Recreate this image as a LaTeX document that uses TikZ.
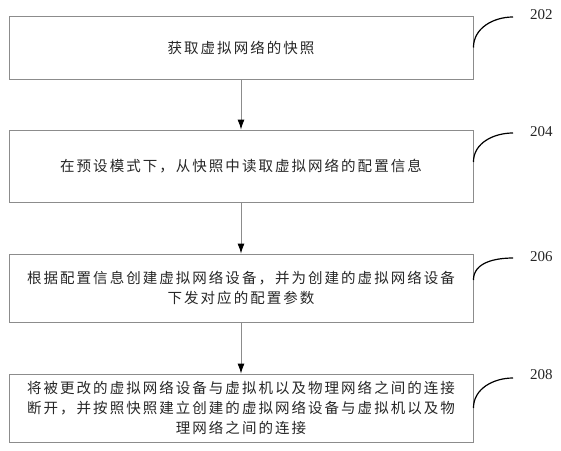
\documentclass[tikz,border=0pt]{standalone}
\usepackage{fontspec}
\setmainfont{Liberation Serif}
\newfontfamily\cjk[LetterSpace=14]{Noto Sans CJK SC}
\usetikzlibrary{arrows.meta,calc}
\tikzset{
  stepbox/.style={draw=black!45, line width=0.9pt, inner sep=0pt, align=center,
    font=\cjk\fontsize{14.5}{20}\selectfont, text=black!85},
  flow/.style={draw=black!45, line width=0.9pt, -{Latex[black,length=10pt,width=7pt]}},
  leader/.style={draw=black, line width=1.2pt},
  refnum/.style={anchor=west, inner sep=0pt, font=\fontsize{15}{15}\selectfont, text=black!85}
}
\begin{document}
\begin{tikzpicture}[x=1pt,y=-1pt]
\useasboundingbox (0,0) rectangle (561,450);
\node[stepbox, minimum width=464pt, minimum height=63pt] (b1) at (241,47.5) {获取虚拟网络的快照};
\node[stepbox, minimum width=464pt, minimum height=72pt] (b2) at (241,166) {在预设模式下，从快照中读取虚拟网络的配置信息};
\node[stepbox, minimum width=464pt, minimum height=68pt] (b3) at (241,288) {根据配置信息创建虚拟网络设备，并为创建的虚拟网络设备\\下发对应的配置参数};
\node[stepbox, minimum width=464pt, minimum height=68pt] (b4) at (241,408) {将被更改的虚拟网络设备与虚拟机以及物理网络之间的连接\\断开，并按照快照建立创建的虚拟网络设备与虚拟机以及物\\理网络之间的连接};
\draw[flow] (b1) -- (b2);
\draw[flow] (b2) -- (b3);
\draw[flow] (b3) -- (b4);
\coordinate (c1) at (513,17);
\coordinate (c2) at (513,133);
\coordinate (c3) at (513,258);
\coordinate (c4) at (513,378);
\draw[leader] (b1.east) to[out=90,in=180] (c1);
\draw[leader] ($(b2.east)+(0,-4)$) to[out=90,in=180] (c2);
\draw[leader] ($(b3.east)+(0,-8)$) to[out=90,in=180] (c3);
\draw[leader] (b4.east) to[out=90,in=180] (c4);
\node[refnum] (n1) at (530,15) {202};
\node[refnum] (n2) at (530,132) {204};
\node[refnum] (n3) at (530,257) {206};
\node[refnum] (n4) at (530,375) {208};
\end{tikzpicture}
\end{document}
